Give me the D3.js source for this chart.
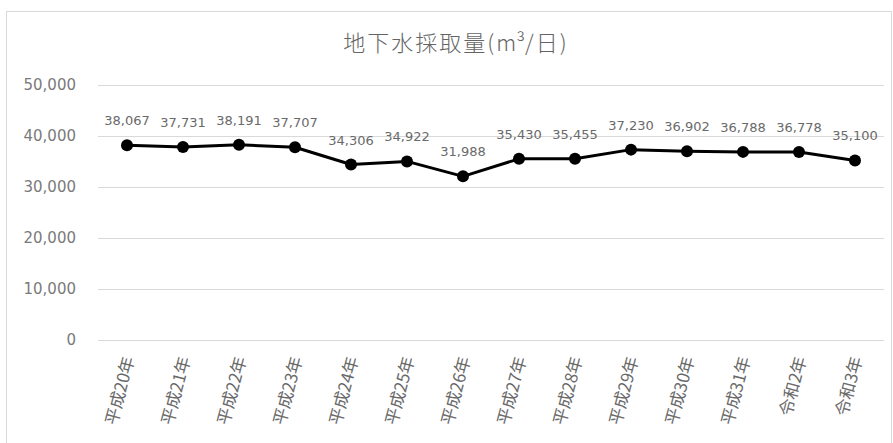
<!DOCTYPE html>
<html>
<head>
<meta charset="utf-8">
<script src="https://cdn.jsdelivr.net/npm/d3@7/dist/d3.min.js"></script>
<style>
  html, body { margin: 0; padding: 0; background: #fff; }
  svg { display: block; }
</style>
</head>
<body>
<svg id="chart" width="893" height="443"></svg>
<script>
// Groundwater extraction per day, fiscal years H20 – R3
const years = ["平成20年", "平成21年", "平成22年", "平成23年", "平成24年", "平成25年", "平成26年",
               "平成27年", "平成28年", "平成29年", "平成30年", "平成31年", "令和2年", "令和3年"];
const volumes = [38067, 37731, 38191, 37707, 34306, 34922, 31988,
                 35430, 35455, 37230, 36902, 36788, 36778, 35100];
const yTicks = [0, 10000, 20000, 30000, 40000, 50000];
const titleParts = ["地下水採取量(", "m³", "/日)"];

const svg = d3.select("#chart");
const W = 893, H = 443;
const textColor = "#6a6a6a";
const numFont = "'DejaVu Sans', 'Noto Sans CJK JP', sans-serif";
const jpFont = "'Noto Sans CJK JP', sans-serif";

// chart frame
svg.append("rect")
  .attr("x", 6.5).attr("y", 11.5)
  .attr("width", W - 8).attr("height", H)
  .attr("fill", "#fff").attr("stroke", "#d9d9d9").attr("stroke-width", 1);

const t = svg.append("text")
  .attr("x", 456).attr("y", 51)
  .attr("text-anchor", "middle")
  .attr("font-family", jpFont)
  .attr("font-weight", 300)
  .attr("font-size", 22)
  .attr("fill", "#646464");
t.append("tspan").attr("letter-spacing", 2).text(titleParts[0]);
t.append("tspan").attr("letter-spacing", 0).text(titleParts[1]);
t.append("tspan").attr("letter-spacing", 2).text(titleParts[2]);

const x = d3.scaleBand().domain(years).range([99, 883]);
const y = d3.scaleLinear().domain([0, 50000]).range([339.5, 84.5]);

// horizontal gridlines
svg.append("g").selectAll("line").data(yTicks).join("line")
  .attr("x1", 98).attr("x2", 884)
  .attr("y1", d => Math.round(y(d)) + 0.5).attr("y2", d => Math.round(y(d)) + 0.5)
  .attr("stroke", "#d9d9d9").attr("stroke-width", 1);

// y axis labels
const fmt = d3.format(",");
svg.append("g").selectAll("text").data(yTicks).join("text")
  .attr("x", 76).attr("y", d => y(d))
  .attr("dy", "0.35em")
  .attr("text-anchor", "end")
  .attr("font-family", numFont).attr("font-size", 15)
  .attr("fill", "#7a7a7a")
  .text(d => fmt(d));

// x axis labels, tilted
svg.append("g").selectAll("text").data(years).join("text")
  .attr("transform", d => `translate(${x(d) + x.bandwidth() / 2 + 2},357) rotate(-75)`)
  .attr("text-anchor", "end")
  .attr("dy", "0.35em")
  .attr("font-family", jpFont).attr("font-size", 17)
  .attr("fill", textColor)
  .text(d => d);

const cx = (d, i) => x(years[i]) + x.bandwidth() / 2;

// series line
const line = d3.line()
  .x((d, i) => cx(d, i))
  .y(d => y(d));
svg.append("path")
  .datum(volumes)
  .attr("d", line)
  .attr("fill", "none")
  .attr("stroke", "#000")
  .attr("stroke-width", 3)
  .attr("stroke-linejoin", "round");

// markers
svg.append("g").selectAll("circle").data(volumes).join("circle")
  .attr("cx", cx).attr("cy", d => y(d))
  .attr("r", 6).attr("fill", "#000");

// value labels
svg.append("g").selectAll("text").data(volumes).join("text")
  .attr("x", cx).attr("y", d => y(d) - 20)
  .attr("text-anchor", "middle")
  .attr("font-family", numFont).attr("font-size", 13)
  .attr("fill", textColor)
  .text(d => fmt(d));
</script>
</body>
</html>
